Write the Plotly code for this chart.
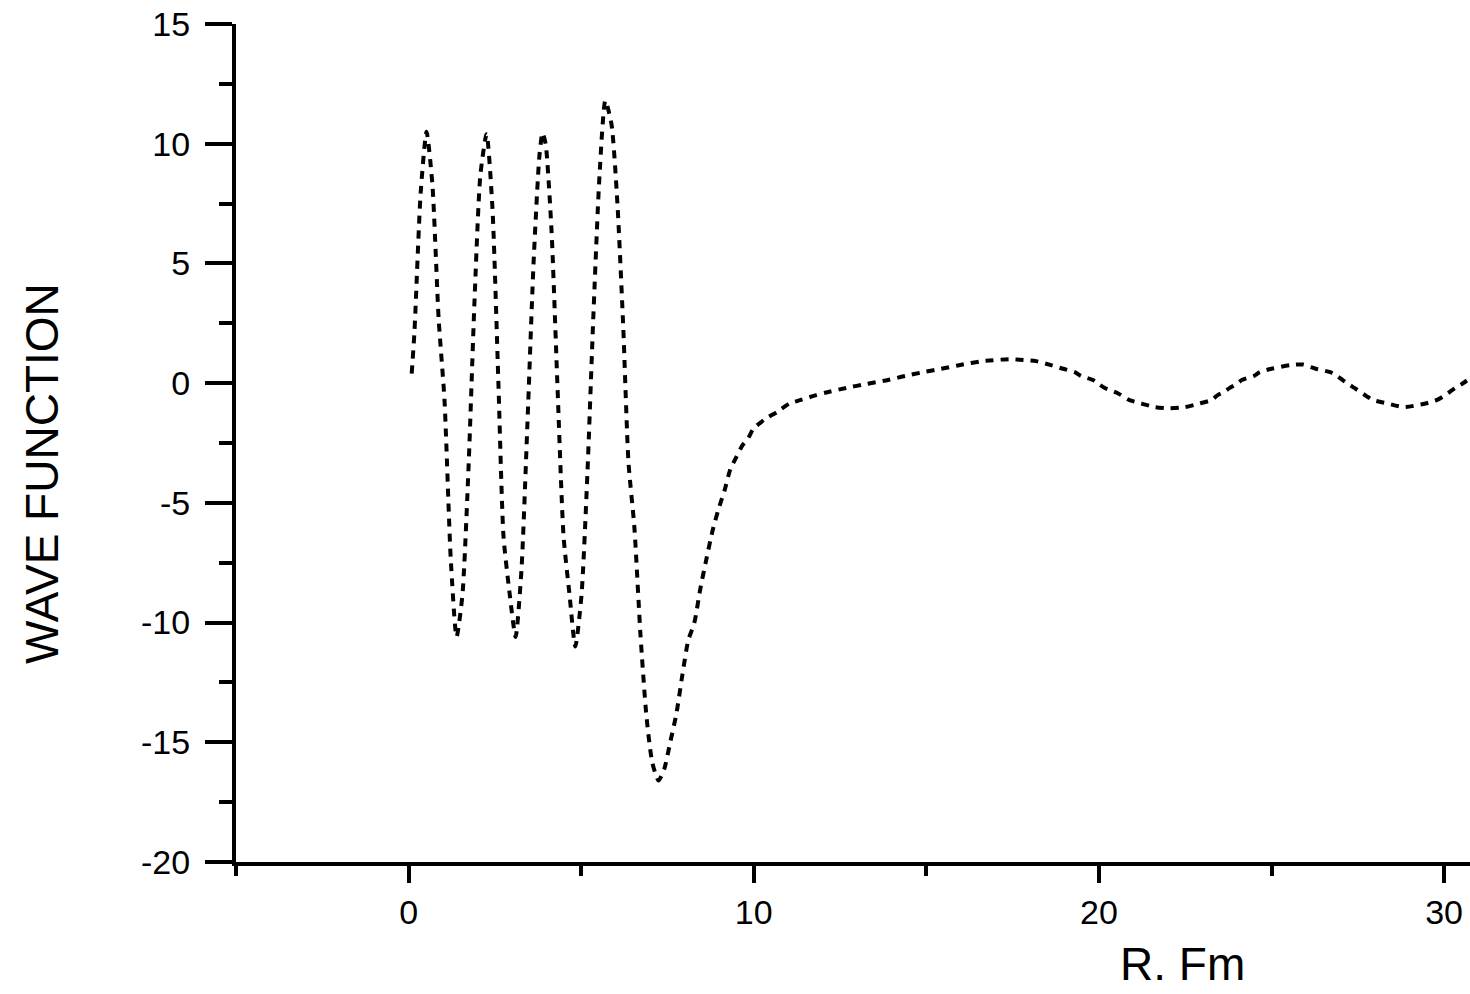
import plotly.graph_objects as go

# R (Fm) and wave function values
r_fm = [0.09, 0.17, 0.35, 0.52, 0.69, 0.87, 1.04, 1.22, 1.39, 1.56, 1.74, 1.91,
        2.08, 2.26, 2.43, 2.60, 2.75, 2.92, 3.10, 3.27, 3.44, 3.62, 3.79, 3.88,
        3.97, 4.14, 4.31, 4.49, 4.66, 4.83, 5.01, 5.18, 5.35, 5.53, 5.70, 5.88,
        6.05, 6.22, 6.37, 6.54, 6.72, 6.89, 7.06, 7.24, 7.41, 7.58, 7.76, 7.93,
        8.10, 8.28, 8.45, 8.62, 8.80, 8.97, 9.15, 9.32, 9.49, 9.67, 9.84, 9.99,
        10.33, 10.68, 11.03, 11.37, 11.81, 12.07, 12.68, 13.20, 13.89, 14.38,
        14.91, 15.43, 15.95, 16.64, 17.42, 18.18, 18.61, 18.96, 19.30, 19.48,
        19.83, 20.00, 20.17, 20.52, 20.87, 21.22, 21.62, 22.05, 22.49, 22.92,
        23.27, 23.44, 23.62, 23.79, 23.97, 24.14, 24.49, 24.66, 25.00, 25.53,
        25.90, 26.28, 26.70, 26.90, 27.06, 27.24, 27.40, 27.76, 27.93, 28.36,
        28.83, 29.46, 29.80, 29.98, 30.16, 30.33, 30.50, 30.68]
psi = [0.4, 2.15, 7.95, 10.5, 8.3, 2.7, -0.7, -7.3, -10.6, -8.85, -3.4, 3.45,
       8.7, 10.4, 7.3, 0.1, -6.4, -8.7, -10.6, -7.8, -1.8, 5.0, 9.5, 10.45,
       10.0, 6.4, 0.0, -6.4, -8.8, -11.0, -8.85, -3.8, 2.7, 8.65, 11.8, 10.8,
       7.5, 2.3, -3.3, -6.0, -10.55, -13.9, -15.85, -16.6, -16.1, -15.0, -13.8, -12.2,
       -10.75, -10.0, -8.6, -7.4, -6.2, -5.3, -4.5, -3.6, -3.1, -2.6, -2.3, -1.9,
       -1.5, -1.2, -0.85, -0.7, -0.5, -0.4, -0.2, -0.05, 0.13, 0.3,
       0.46, 0.6, 0.75, 0.92, 1.0, 0.92, 0.75, 0.6, 0.46, 0.3,
       0.13, -0.05, -0.2, -0.4, -0.7, -0.85, -1.0, -1.05, -1.0, -0.85,
       -0.7, -0.5, -0.37, -0.2, -0.05, 0.13, 0.3, 0.46, 0.6, 0.75,
       0.78, 0.6, 0.46, 0.3, 0.13, -0.05, -0.2, -0.55, -0.7, -0.85,
       -1.0, -0.85, -0.7, -0.55, -0.37, -0.2, -0.05, 0.13]

x_ticks = [0, 10, 20, 30]
x_ticklabels = ["0", "10", "20", "30"]
y_ticks = [15, 10, 5, 0, -5, -10, -15, -20]
y_ticklabels = ["15", "10", "5", "0", "-5", "-10", "-15", "-20"]

FONT = "Liberation Sans Narrow, Liberation Sans, Arial, sans-serif"

fig = go.Figure()
fig.add_trace(go.Scatter(
    x=r_fm, y=psi, mode="lines",
    line=dict(color="black", width=4, dash="8px,7px", shape="spline", smoothing=0.6),
    showlegend=False, hoverinfo="skip",
))

fig.update_layout(
    width=1470, height=994,
    margin=dict(l=236, r=0, t=24, b=132),
    paper_bgcolor="white", plot_bgcolor="white",
    font=dict(family="Liberation Sans, Arial, sans-serif", color="black"),
    xaxis=dict(
        range=[-5, 30.75], showgrid=False, zeroline=False,
        showline=True, linecolor="black", linewidth=4,
        tickmode="array", tickvals=x_ticks, ticktext=x_ticklabels,
        ticks="outside", ticklen=17, tickwidth=4, tickcolor="black",
        tickfont=dict(size=34, color="black"),
        minor=dict(dtick=5, tick0=0, ticks="outside", ticklen=10, tickwidth=4, tickcolor="black"),
        ticklabelstandoff=0,
    ),
    yaxis=dict(
        range=[-20, 15], showgrid=False, zeroline=False,
        showline=True, linecolor="black", linewidth=4,
        tickmode="array", tickvals=y_ticks, ticktext=y_ticklabels,
        ticks="outside", ticklen=27, tickwidth=4, tickcolor="black",
        tickfont=dict(size=34, color="black"),
        minor=dict(dtick=2.5, tick0=0, ticks="outside", ticklen=13, tickwidth=4, tickcolor="black"),
        ticklabelstandoff=8,
    ),
    annotations=[
        dict(text="R. Fm", xref="paper", yref="paper", x=(1182 - 236) / 1234,
             y=(862 - 964) / 838,
             xanchor="center", yanchor="middle", showarrow=False,
             font=dict(size=46, family="Liberation Sans, Arial, sans-serif", color="black")),
        dict(text="WAVE FUNCTION", xref="paper", yref="paper", x=(42 - 236) / 1234,
             y=(862 - 474) / 838, xanchor="center", yanchor="middle", textangle=-90,
             showarrow=False, font=dict(size=46, family=FONT, color="black")),
    ],
)

fig.write_html("out.html")
